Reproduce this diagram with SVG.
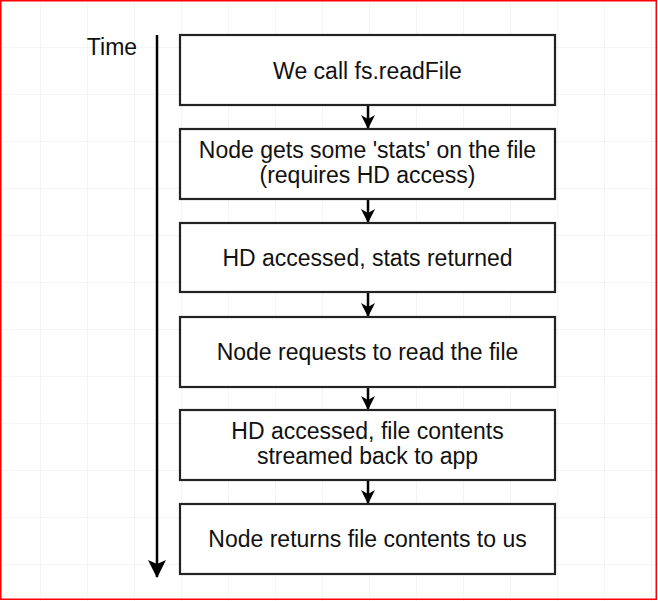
<svg xmlns="http://www.w3.org/2000/svg" width="658" height="601" viewBox="0 0 658 601">
<defs>
<pattern id="grid" width="47" height="47" patternUnits="userSpaceOnUse" x="40" y="0">
<path d="M0 0V47M0 0H47" fill="none" stroke="#ececec" stroke-width="1"/>
</pattern>
<marker id="ah" markerWidth="14" markerHeight="14" refX="13" refY="7" orient="auto" markerUnits="userSpaceOnUse" viewBox="0 0 14 14">
<path d="M0 0L14 7L0 14L4 7Z" fill="#000"/>
</marker>
<marker id="ahbig" markerWidth="18" markerHeight="18" refX="17" refY="9" orient="auto" markerUnits="userSpaceOnUse" viewBox="0 0 18 18">
<path d="M0 0L18 9L0 18L4 9Z" fill="#000"/>
</marker>
</defs>
<style>
.box{fill:#fff;stroke:#222;stroke-width:2.2}
.t{font-family:"Liberation Sans",Arial,sans-serif;font-size:23px;fill:#111;text-anchor:middle}
.c{stroke:#000;stroke-width:2.5;fill:none}
</style>
<rect x="0" y="0" width="658" height="601" fill="#fff"/>
<rect x="0" y="0" width="658" height="601" fill="url(#grid)"/>
<rect x="0.75" y="0.75" width="655.5" height="598.5" fill="none" stroke="#f00" stroke-width="1.5"/>
<text class="t" x="112" y="55" id="time">Time</text>
<g id="connectors">
<line class="c" x1="157" y1="35" x2="157" y2="577" stroke-width="3" marker-end="url(#ahbig)"/>
<line class="c" x1="368" y1="105" x2="368" y2="128" marker-end="url(#ah)"/>
<line class="c" x1="368" y1="199" x2="368" y2="222" marker-end="url(#ah)"/>
<line class="c" x1="368" y1="292" x2="368" y2="316" marker-end="url(#ah)"/>
<line class="c" x1="368" y1="387" x2="368" y2="409" marker-end="url(#ah)"/>
<line class="c" x1="368" y1="480" x2="368" y2="503" marker-end="url(#ah)"/>
</g>
<g id="n1"><rect class="box" x="180" y="35" width="375" height="70"/><text class="t" x="367.5" y="79">We call fs.readFile</text></g>
<g id="n2"><rect class="box" x="180" y="129" width="375" height="70"/><text class="t" x="367.5" y="158">Node gets some 'stats' on the file</text><text class="t" x="367.5" y="183">(requires HD access)</text></g>
<g id="n3"><rect class="box" x="180" y="223" width="375" height="69"/><text class="t" x="367.5" y="266">HD accessed, stats returned</text></g>
<g id="n4"><rect class="box" x="180" y="317" width="375" height="70"/><text class="t" x="367.5" y="360">Node requests to read the file</text></g>
<g id="n5"><rect class="box" x="180" y="410" width="375" height="70"/><text class="t" x="367.5" y="439">HD accessed, file contents</text><text class="t" x="367.5" y="464">streamed back to app</text></g>
<g id="n6"><rect class="box" x="180" y="504" width="375" height="70"/><text class="t" x="367.5" y="547">Node returns file contents to us</text></g>
</svg>
